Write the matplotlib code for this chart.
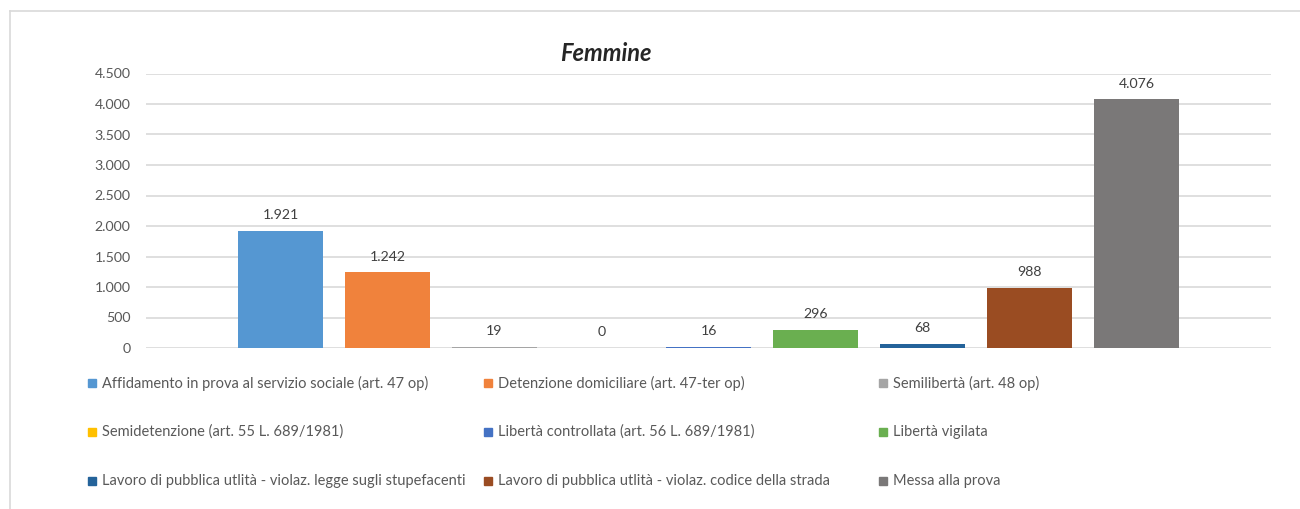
import matplotlib.pyplot as plt
from matplotlib.patches import Rectangle
from matplotlib.lines import Line2D

plt.rcParams['font.family'] = ['Lato', 'DejaVu Sans']

# data
categorie = [
    'Affidamento in prova al servizio sociale (art. 47 op)',
    'Detenzione domiciliare (art. 47-ter op)',
    'Semilibertà (art. 48 op)',
    'Semidetenzione (art. 55 L. 689/1981)',
    'Libertà controllata (art. 56 L. 689/1981)',
    'Libertà vigilata',
    'Lavoro di pubblica utlità - violaz. legge sugli stupefacenti',
    'Lavoro di pubblica utlità - violaz. codice della strada',
    'Messa alla prova',
]
valori = [1921, 1242, 19, 0, 16, 296, 68, 988, 4076]
colori = ['#5597D2', '#F0823C', '#A5A5A5', '#FFC000', '#4472C4',
          '#6AAF50', '#24639A', '#9A4C22', '#7A7878']
yticks = [0, 500, 1000, 1500, 2000, 2500, 3000, 3500, 4000, 4500]

W, H = 1300, 509
fig = plt.figure(figsize=(13, 5.09), dpi=100)
ax = fig.add_axes([146 / W, (H - 348) / H, (1271 - 146) / W, (348 - 73.5) / H])

def fmt(v):
    return f'{v:,}'.replace(',', '.')

# bars
x = list(range(len(valori)))
ax.bar(x, valori, width=0.794, color=colori, zorder=2)
for xi, v in zip(x, valori):
    ax.annotate(fmt(v), (xi, v), xytext=(0, 7), textcoords='offset points',
                ha='center', va='bottom', fontsize=10.2, color='#404040')

ax.set_xlim(-1.257, 9.257)
ax.set_ylim(0, 4500)
ax.set_yticks(yticks)
ax.set_yticklabels([fmt(t) for t in yticks], fontsize=10.2, color='#595959')
ax.set_xticks([])
ax.tick_params(axis='y', length=0, pad=11)
ax.yaxis.grid(True, color='#D9D9D9', linewidth=1.2, zorder=0)
ax.set_axisbelow(True)
for s in ax.spines.values():
    s.set_visible(False)

# title
fig.text(606 / W, 1 - 53 / H, 'Femmine', ha='center', va='center',
         fontsize=17, fontweight='bold', fontstyle='italic', color='#262626')

# legend, row by row, 3 columns
col_x = [88, 484, 879]
row_y = [383, 432, 481]
for i, (lab, c) in enumerate(zip(categorie, colori)):
    r, k = divmod(i, 3)
    x0, y0 = col_x[k], row_y[r]
    fig.patches.append(Rectangle((x0 / W, 1 - (y0 + 4) / H), 8 / W, 8 / H,
                                 transform=fig.transFigure, color=c))
    fig.text((x0 + 14) / W, 1 - y0 / H, lab, ha='left', va='center',
             fontsize=10.5, color='#595959')

# chart frame
fig.add_artist(Line2D([10 / W, 1], [1 - 11 / H, 1 - 11 / H],
                      transform=fig.transFigure, color='#D9D9D9', linewidth=1.2))
fig.add_artist(Line2D([10 / W, 10 / W], [0, 1 - 11 / H],
                      transform=fig.transFigure, color='#D9D9D9', linewidth=1.2))

fig.savefig('out.png', dpi=100)
